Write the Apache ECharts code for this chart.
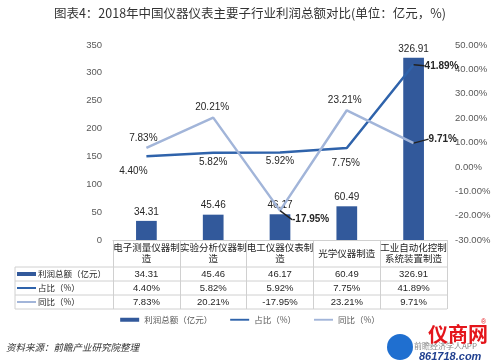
<!DOCTYPE html>
<html><head><meta charset="utf-8">
<script src="https://cdn.jsdelivr.net/npm/echarts@6/dist/echarts.min.js"></script>
<style>html,body{margin:0;padding:0;background:#fff}#c{width:500px;height:364px}</style>
</head><body><div id="c"></div>
<script>
const title = '图表4：2018年中国仪器仪表主要子行业利润总额对比(单位：亿元，%)';
const categories = ['电子测量仪器制造','实验分析仪器制造','电工仪器仪表制造','光学仪器制造','工业自动化控制系统装置制造'];
const profit = [34.31, 45.46, 46.17, 60.49, 326.91];
const share = [4.40, 5.82, 5.92, 7.75, 41.89];
const yoy = [7.83, 20.21, -17.95, 23.21, 9.71];
const seriesNames = ['利润总额（亿元）','占比（%）','同比（%）'];
const leftTicks = {min: 0, max: 350, interval: 50};
const rightTicks = {min: -30, max: 50, interval: 10};
const source = '资料来源：前瞻产业研究院整理';

const C_BAR = '#32599b', C_SHARE = '#2f63ab', C_YOY = '#a2b5d9';
const TXT = '#262626', GRAY = '#595959', BORDER = '#d0d0d0';
const CJK = '"Microsoft YaHei","Noto Sans CJK SC",sans-serif';

const chart = echarts.init(document.getElementById('c'), null, {renderer: 'canvas'});

const leader = {show: true, lineStyle: {color: '#222', width: 1.3}};
// label placement per point (style only)
const shareLabelCfg = [
  {position: 'bottom', dx: -13, dy: 5},
  {position: 'bottom'},
  {position: 'bottom', dy: -1},
  {position: 'bottom', dx: -1, dy: 5},
  {position: 'right', fontWeight: 'bold', dx: 6, dy: 1, leader: true}
];
const yoyLabelCfg = [
  {position: 'top', dx: -3},
  {position: 'top', dx: -1},
  {position: 'right', fontWeight: 'bold', dx: 7, dy: 9, leader: true},
  {position: 'top', dx: -2},
  {position: 'right', fontWeight: 'bold', dx: 10, dy: -4, leader: true}
];
const pct = v => v.toFixed(2) + '%';

function lineData(values, cfgs) {
  return values.map((v, i) => {
    const c = cfgs[i];
    const lab = {position: c.position};
    if (c.fontWeight) lab.fontWeight = c.fontWeight;
    return {value: v, label: lab, labelLine: c.leader ? leader : {show: false}};
  });
}
const layoutFrom = cfgs => p => {
  const c = cfgs[p.dataIndex] || {};
  return {dx: c.dx || 0, dy: c.dy || 0};
};

const tableRows = [profit.map(v => v.toFixed(2)), share.map(pct), yoy.map(pct)];
const rowMargins = [28, 42, 56];

const xAxes = [{
  type: 'category', data: categories, position: 'bottom', gridIndex: 0,
  axisLine: {show: true, lineStyle: {color: BORDER}},
  axisTick: {show: true, length: 69, lineStyle: {color: BORDER}},
  axisLabel: {interval: 0, color: TXT, fontSize: 9.5, fontFamily: CJK, width: 67, overflow: 'break',
    lineHeight: 11, verticalAlign: 'middle', margin: 13}
}];
tableRows.forEach((row, r) => {
  xAxes.push({
    type: 'category', data: categories, position: 'bottom', gridIndex: 0,
    axisLine: {show: false}, axisTick: {show: false}, splitLine: {show: false},
    axisLabel: {interval: 0, color: TXT, fontSize: 9.5, verticalAlign: 'middle', margin: rowMargins[r] + 6,
      formatter: (v, i) => row[i]}
  });
});

const graphics = [
  {type: 'text', left: 'center', top: 7, style: {text: title, fill: '#333', font: '12.5px ' + CJK}},
  ...[267, 281, 295, 309].map(y => ({type: 'line', shape: {x1: 15, y1: y, x2: 447, y2: y}, style: {stroke: BORDER, lineWidth: 1}})),
  {type: 'line', shape: {x1: 15, y1: 267, x2: 15, y2: 309}, style: {stroke: BORDER, lineWidth: 1}},
  {type: 'rect', shape: {x: 17, y: 272, width: 19, height: 4}, style: {fill: C_BAR}},
  {type: 'line', shape: {x1: 17, y1: 288, x2: 36, y2: 288}, style: {stroke: C_SHARE, lineWidth: 2}},
  {type: 'line', shape: {x1: 17, y1: 302, x2: 36, y2: 302}, style: {stroke: C_YOY, lineWidth: 2}},
  ...seriesNames.map((n, i) => ({type: 'text', x: 38, y: [274, 288, 302][i],
    style: {text: n, fill: TXT, font: '8.5px ' + CJK, verticalAlign: 'middle'}})),
  {type: 'text', x: 6, y: 343, style: {text: source, fill: '#333', font: 'italic 9.5px ' + CJK}},
  {type: 'circle', shape: {cx: 400, cy: 347, r: 13}, style: {fill: '#1f6fd0'}},
  {type: 'text', x: 414, y: 342, style: {text: '前瞻经济学人APP', fill: '#888', font: '8px ' + CJK}},
  {type: 'text', x: 428, y: 324, style: {text: '仪商网', fill: '#e4151b', font: 'bold 20px ' + CJK}},
  {type: 'text', x: 481, y: 319, style: {text: '®', fill: '#e4151b', font: '7px sans-serif'}},
  {type: 'text', x: 419, y: 351, style: {text: '861718.com', fill: '#1f3f8f', font: 'italic bold 11px sans-serif'}}
];

const lineLabelBase = {show: true, color: TXT, fontSize: 10, formatter: p => pct(p.value)};

chart.setOption({
  backgroundColor: '#fff',
  animation: false,
  grid: {left: 113, right: 53, top: 45, bottom: 124, containLabel: false},
  legend: {
    bottom: 35, left: 'center', itemGap: 18, itemWidth: 19, itemHeight: 4,
    textStyle: {color: GRAY, fontSize: 8.5, fontFamily: CJK},
    data: [
      {name: seriesNames[0], icon: 'rect'},
      {name: seriesNames[1], icon: 'path://M0,0 L20,0 L20,2 L0,2 Z'},
      {name: seriesNames[2], icon: 'path://M0,0 L20,0 L20,2 L0,2 Z'}
    ]
  },
  xAxis: xAxes,
  yAxis: [
    {type: 'value', position: 'left', min: leftTicks.min, max: leftTicks.max, interval: leftTicks.interval,
      axisLine: {show: false}, axisTick: {show: false}, splitLine: {show: false},
      axisLabel: {color: GRAY, fontSize: 9.5, margin: 11}},
    {type: 'value', position: 'right', min: rightTicks.min, max: rightTicks.max, interval: rightTicks.interval,
      axisLine: {show: false}, axisTick: {show: false}, splitLine: {show: false},
      axisLabel: {color: GRAY, fontSize: 9.5, margin: 8, formatter: v => v.toFixed(2) + '%'}}
  ],
  graphic: graphics,
  series: [
    {name: seriesNames[0], type: 'bar', data: profit, barWidth: '31%', itemStyle: {color: C_BAR},
      label: {show: true, position: 'top', color: TXT, fontSize: 10, distance: 4}},
    {name: seriesNames[1], type: 'line', yAxisIndex: 1, z: 3,
      data: lineData(share, shareLabelCfg),
      showSymbol: true, symbol: 'circle', symbolSize: 0, lineStyle: {color: C_SHARE, width: 2.5},
      itemStyle: {color: C_SHARE},
      label: lineLabelBase,
      labelLayout: layoutFrom(shareLabelCfg)},
    {name: seriesNames[2], type: 'line', yAxisIndex: 1, z: 3,
      data: lineData(yoy, yoyLabelCfg),
      showSymbol: true, symbol: 'circle', symbolSize: 0, lineStyle: {color: C_YOY, width: 2.5},
      itemStyle: {color: C_YOY},
      label: lineLabelBase,
      labelLayout: layoutFrom(yoyLabelCfg)}
  ]
});
</script></body></html>
